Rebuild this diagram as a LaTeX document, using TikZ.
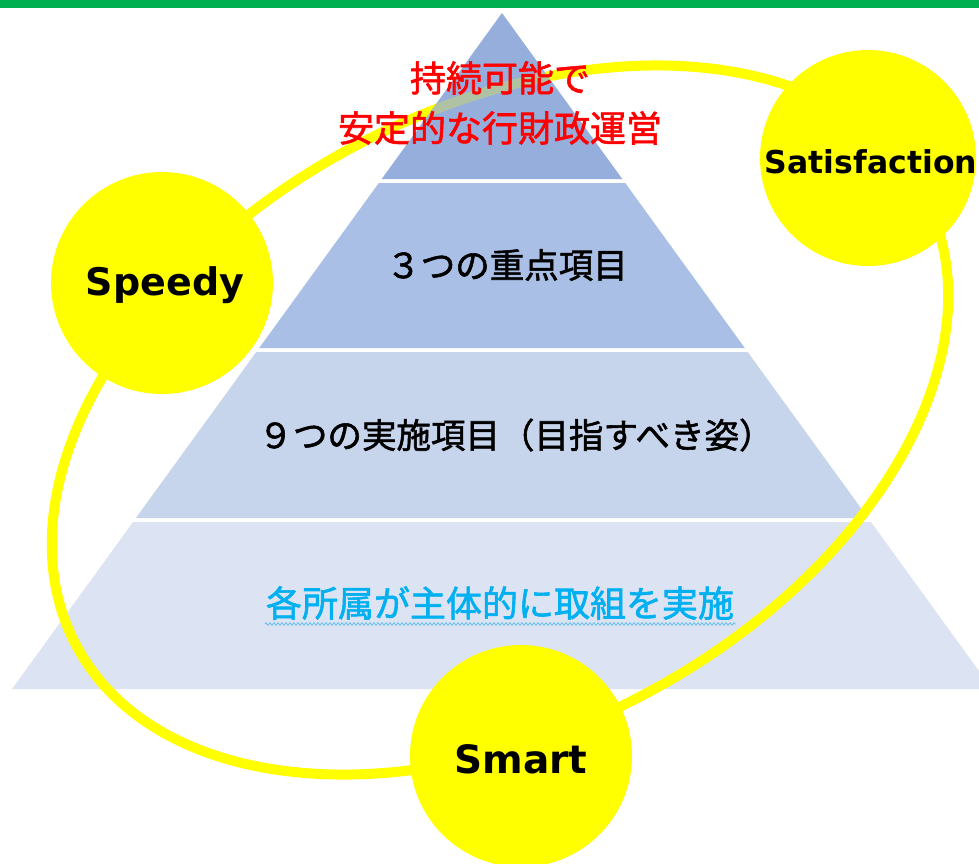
\documentclass[tikz,border=0pt]{standalone}
\usepackage{fontspec}
\newfontfamily\jpfont{Noto Sans CJK JP}[FakeBold=1.6]
\newfontfamily\latfont{DejaVu Sans}
\usetikzlibrary{decorations.pathmorphing}
\definecolor{gbar}{HTML}{00B050}
\definecolor{layA}{HTML}{95AEDC}
\definecolor{layB}{HTML}{AABFE5}
\definecolor{layC}{HTML}{C6D4EC}
\definecolor{layD}{HTML}{DCE3F3}
\definecolor{ringy}{HTML}{FFFF00}
\definecolor{bluetxt}{HTML}{00B0F0}
\definecolor{squig}{HTML}{6CC4EE}
\begin{document}
\begin{tikzpicture}[x=1pt,y=-1pt,
  ring/.style={draw=ringy, line width=10pt},
  bubble/.style={circle, fill=ringy, draw=none, minimum size=#1, inner sep=0pt},
  lattext/.style={font=\latfont\bfseries\fontsize{#1}{#1}\selectfont, inner sep=0pt, anchor=base},
  jptext/.style={font=\jpfont\fontsize{#1}{#1}\selectfont, inner sep=0pt}
]
\useasboundingbox (0,0) rectangle (979,863);
\clip (0,0) rectangle (979,863);
\fill[gbar] (0,0) rectangle (979,8);
% lower pyramid layers
\fill[layB] (378.8,183) -- (625.2,183) -- (744.8,348) -- (259.2,348) -- cycle;
\fill[layC] (256.3,352) -- (747.7,352) -- (868.1,518) -- (135.9,518) -- cycle;
\fill[layD] (133,522) -- (871,522) -- (992,689) -- (12,689) -- cycle;
% ring
\coordinate (E) at (500,420);
\draw[ring, rotate around={28:(E)}] (E) ellipse [x radius=480, y radius=310];
% top triangle over the ring
\fill[layA] (502,13) -- (622.3,179) -- (381.7,179) -- cycle;
\begin{scope}
  \clip (502,13) -- (622.3,179) -- (381.7,179) -- cycle;
  \draw[ring, opacity=0.25, rotate around={28:(E)}] (E) ellipse [x radius=480, y radius=310];
\end{scope}
% circles
\node[bubble=222pt] (speedy) at (162,283) {};
\node[bubble=216pt] (satis) at (868,158) {};
\node[bubble=222pt] (smart) at (521,756) {};
\node[lattext=38] (speedyt) at (165,295) {Speedy};
\node[lattext=31.5] (satist) at (871,173) {Satisfaction};
\node[lattext=39] (smartt) at (521,773) {Smart};
% pyramid texts
\node[jptext=36, text=red, align=center, font=\jpfont\fontsize{36}{50}\selectfont] (goal) at (500,103) {持続可能で\\安定的な行財政運営};
\node[jptext=34.5] (three) at (507,265) {３つの重点項目};
\node[jptext=34.5] (nine) at (516,435) {９つの実施項目（目指すべき姿）};
\node[jptext=36, text=bluetxt] (each) at (500,603) {各所属が主体的に取組を実施};
\coordinate (sqA) at (265,624);
\coordinate (sqB) at (736,624);
\draw[squig, line width=0.9pt, decorate, decoration={zigzag, segment length=4, amplitude=1.3}] (sqA) -- (sqB);
\end{tikzpicture}
\end{document}
